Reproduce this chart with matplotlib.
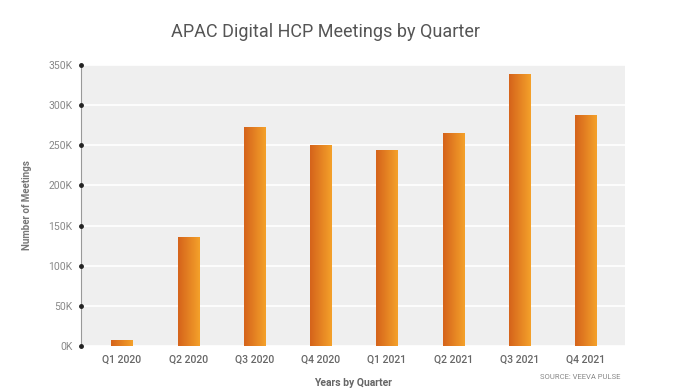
import matplotlib
matplotlib.use("Agg")
import matplotlib.pyplot as plt
import numpy as np
from matplotlib.colors import LinearSegmentedColormap
from matplotlib.ticker import FuncFormatter

quarters = ["Q1 2020", "Q2 2020", "Q3 2020", "Q4 2020", "Q1 2021", "Q2 2021", "Q3 2021", "Q4 2021"]
meetings = [7000, 136000, 273000, 250000, 244000, 265000, 339000, 288000]
y_ticks = [0, 50000, 100000, 150000, 200000, 250000, 300000, 350000]

plt.rcParams['font.family'] = ['Roboto', 'DejaVu Sans']

fig = plt.figure(figsize=(6.8, 3.9), dpi=100)
ax = fig.add_axes([0.119, 0.113, 0.800, 0.720])
ax.set_facecolor("#efefef")

x = np.arange(len(quarters))
bars = ax.bar(x, meetings, width=0.32, color="#ec8a1f", edgecolor="none", zorder=3)

cmap = LinearSegmentedColormap.from_list("og", ["#d5631b", "#f4a12a"])
grad = np.linspace(0, 1, 64).reshape(1, -1)
for b in bars:
    x0, y0 = b.get_x(), b.get_y()
    w, h = b.get_width(), b.get_height()
    im = ax.imshow(grad, cmap=cmap, aspect="auto", extent=[x0, x0 + w, y0, y0 + h],
                   zorder=4, interpolation="bicubic")
    im.set_clip_path(b)

ax.set_xlim(-0.62, 7.59)
ax.set_ylim(0, 350000)
ax.set_yticks(y_ticks)
ax.yaxis.set_major_formatter(FuncFormatter(lambda v, p: f"{int(v/1000)}K"))
ax.set_xticks(x)
ax.set_xticklabels(quarters, fontweight="medium")
ax.grid(axis="y", color="white", linewidth=1.2, zorder=1)
ax.set_axisbelow(True)
for s in ["top", "right", "bottom"]:
    ax.spines[s].set_visible(False)
ax.spines["left"].set_color("#999999")
ax.spines["left"].set_linewidth(0.8)
ax.tick_params(axis="y", length=0, pad=6, labelsize=7.5, labelcolor="#888888")
ax.tick_params(axis="x", length=0, pad=6, labelsize=7.5, labelcolor="#666666")
ax.plot(np.full(len(y_ticks), ax.get_xlim()[0]), y_ticks, "o", color="#222222", ms=2.5,
        clip_on=False, zorder=6)

ax.set_ylabel("Number of Meetings", fontsize=7, color="#777777", fontweight="bold", labelpad=12)
ax.set_xlabel("Years by Quarter", fontsize=7.5, color="#666666", fontweight="bold", labelpad=10)
fig.text(0.478, 0.918, "APAC Digital HCP Meetings by Quarter", ha="center", va="center",
         fontsize=13, color="#555555")
fig.text(0.912, 0.033, "SOURCE: VEEVA PULSE", ha="right", va="center", fontsize=5.5,
         color="#888888", fontstretch="condensed")

fig.savefig("out.png", dpi=100)
